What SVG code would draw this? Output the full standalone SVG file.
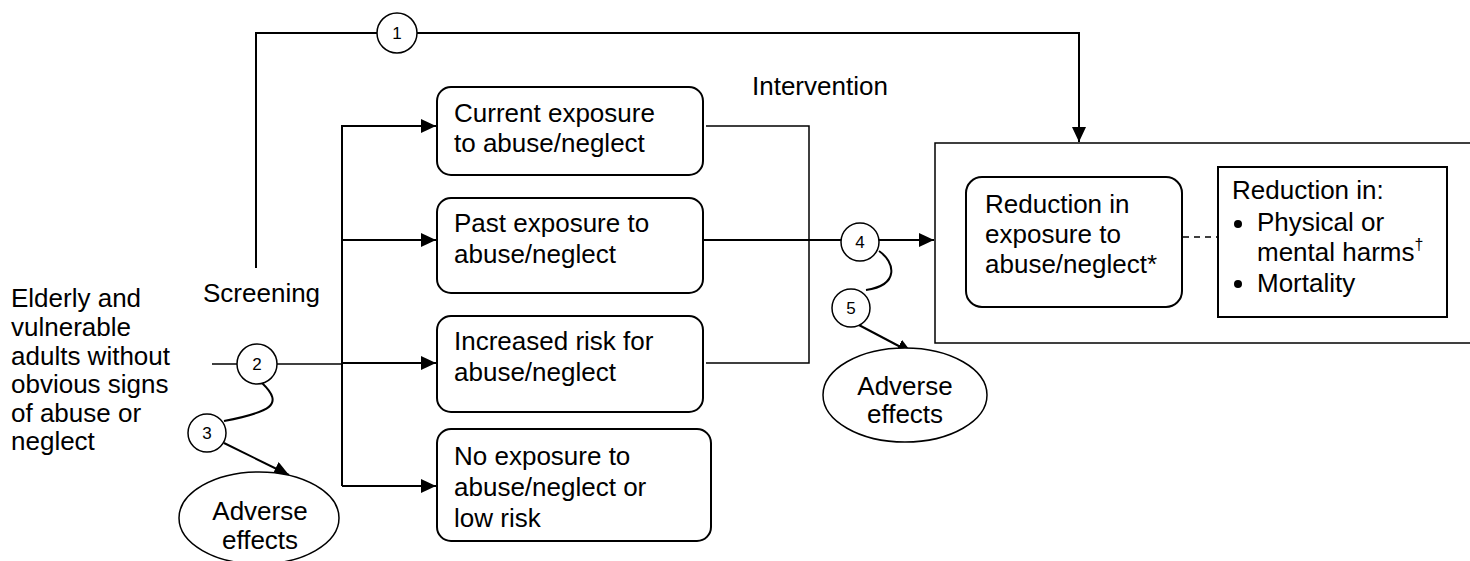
<svg xmlns="http://www.w3.org/2000/svg" width="1470" height="561" viewBox="0 0 1470 561">
<style>
text{font-family:"Liberation Sans",Arial,sans-serif;font-size:26px;fill:#000}
.sm{font-size:17px}
.box{fill:#fff;stroke:#000;stroke-width:2}
.ln{fill:none;stroke:#000;stroke-width:2}
.th{fill:none;stroke:#000;stroke-width:1.5}
.kq{fill:#fff;stroke:#000;stroke-width:1.5}
</style>
<defs>
<marker id="ah" markerWidth="15" markerHeight="14" refX="15" refY="7" orient="auto" markerUnits="userSpaceOnUse">
<path d="M0,0 L15,7 L0,14 Z" fill="#000"/>
</marker>
</defs>
<rect width="1470" height="561" fill="#fff"/>
<g id="connectors">
<path class="ln" d="M256,268 V34 M255,33 H377 M417,33 H1079 V142" marker-end="url(#ah)"/>
<path class="ln" d="M342,126 V486"/>
<path class="ln" d="M341,126 H436" marker-end="url(#ah)"/>
<path class="ln" d="M342,240 H436" marker-end="url(#ah)"/>
<path class="ln" d="M342,486 H436" marker-end="url(#ah)"/>
<path class="th" d="M212,364 H237"/>
<path class="th" d="M277,364 H342"/>
<path class="ln" d="M342,363 H436" marker-end="url(#ah)"/>
<path class="th" d="M706,126 H809 V363 H706"/>
<path class="ln" d="M703,240 H841"/>
<path class="ln" d="M879,240 H934" marker-end="url(#ah)"/>
<path class="ln" d="M879,251 C895,262 900,285 866,290"/>
<path class="ln" d="M857,324 L912,353" marker-end="url(#ah)"/>
<path class="ln" d="M262,383 C285,405 270,412 224,421"/>
<path class="ln" d="M224,443 L289,475" marker-end="url(#ah)"/>
<path d="M1183,237 H1218" stroke="#000" stroke-width="1.5" stroke-dasharray="6,5" fill="none"/>
</g>
<g id="outcome-frame">
<rect x="935" y="143" width="545" height="200" fill="none" stroke="#000" stroke-width="1.5"/>
</g>
<g id="c1"><circle class="kq" cx="397" cy="33" r="20"/><text class="sm" x="397" y="39" text-anchor="middle">1</text></g>
<g id="c2"><circle class="kq" cx="257" cy="364" r="20"/><text class="sm" x="257" y="370" text-anchor="middle">2</text></g>
<g id="c3"><circle class="kq" cx="207" cy="433" r="19"/><text class="sm" x="207" y="439" text-anchor="middle">3</text></g>
<g id="c4"><circle class="kq" cx="860" cy="242" r="19"/><text class="sm" x="860" y="248" text-anchor="middle">4</text></g>
<g id="c5"><circle class="kq" cx="851" cy="308" r="19"/><text class="sm" x="851" y="314" text-anchor="middle">5</text></g>
<g id="population">
<text x="11" y="307">Elderly and</text>
<text x="11" y="336">vulnerable</text>
<text x="11" y="365">adults without</text>
<text x="11" y="393">obvious signs</text>
<text x="11" y="422">of abuse or</text>
<text x="11" y="450">neglect</text>
</g>
<g id="screening-label"><text x="203" y="302">Screening</text></g>
<g id="intervention-label"><text x="752" y="95">Intervention</text></g>
<g id="current">
<rect class="box" x="437" y="87" width="266" height="88" rx="14"/>
<text x="454" y="122">Current exposure</text>
<text x="454" y="152">to abuse/neglect</text>
</g>
<g id="past">
<rect class="box" x="437" y="198" width="266" height="95" rx="14"/>
<text x="454" y="232">Past exposure to</text>
<text x="454" y="263">abuse/neglect</text>
</g>
<g id="increased">
<rect class="box" x="437" y="316" width="266" height="96" rx="14"/>
<text x="454" y="350">Increased risk for</text>
<text x="454" y="381">abuse/neglect</text>
</g>
<g id="noexposure">
<rect class="box" x="437" y="429" width="274" height="112" rx="14"/>
<text x="454" y="465">No exposure to</text>
<text x="454" y="496">abuse/neglect or</text>
<text x="454" y="527">low risk</text>
</g>
<g id="reduction-exposure">
<rect class="box" x="966" y="177" width="216" height="130" rx="16"/>
<text x="985" y="213">Reduction in</text>
<text x="985" y="243">exposure to</text>
<text x="985" y="273">abuse/neglect*</text>
</g>
<g id="reduction-harms">
<rect class="box" x="1218" y="167" width="229" height="150" rx="0"/>
<text x="1232" y="199">Reduction in:</text>
<circle cx="1238" cy="224" r="4"/>
<text x="1257" y="231">Physical or</text>
<text x="1257" y="261">mental harms<tspan font-size="16" dy="-11" fill="#000">†</tspan></text>
<circle cx="1238" cy="284" r="4"/>
<text x="1257" y="292">Mortality</text>
</g>
<g id="adverse1">
<ellipse cx="259" cy="518" rx="80" ry="46" fill="#fff" stroke="#000" stroke-width="1.5"/>
<text x="260" y="520" text-anchor="middle">Adverse</text>
<text x="260" y="549" text-anchor="middle">effects</text>
</g>
<g id="adverse2">
<ellipse cx="905" cy="395" rx="82" ry="47" fill="#fff" stroke="#000" stroke-width="1.5"/>
<text x="905" y="395" text-anchor="middle">Adverse</text>
<text x="905" y="423" text-anchor="middle">effects</text>
</g>
</svg>
